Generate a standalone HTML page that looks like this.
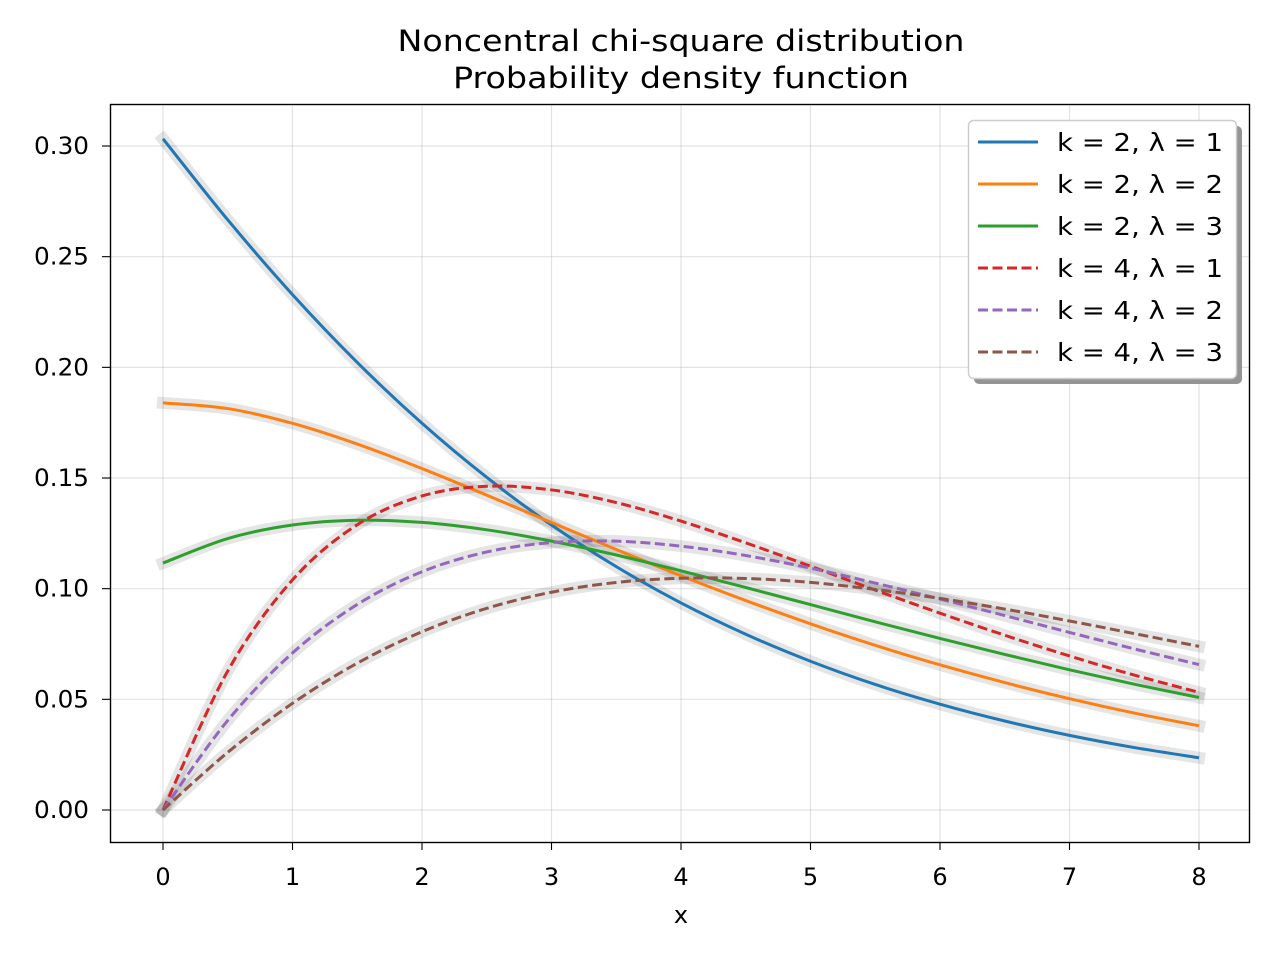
<!DOCTYPE html>
<html><head><meta charset="utf-8"><style>
body{margin:0;background:#fff;}
svg{display:block;font-family:"DejaVu Sans","Liberation Sans",sans-serif;}
</style></head><body>
<svg id="chart" width="1280" height="960" viewBox="0 0 1280 960">
<rect width="1280" height="960" fill="#fff"/>
<text x="681" y="51" font-size="29" text-anchor="middle" textLength="567" lengthAdjust="spacingAndGlyphs">Noncentral chi-square distribution</text>
<text x="681" y="88" font-size="29" text-anchor="middle" textLength="456" lengthAdjust="spacingAndGlyphs">Probability density function</text>
<g id="grid"></g>
<g id="halos"></g>
<g id="lines"></g>
<rect x="110.5" y="104.5" width="1139" height="738" fill="none" stroke="#000" stroke-width="1.4"/>
<g id="ticks"></g>
<text x="681" y="923" font-size="24" text-anchor="middle">x</text>
<g id="legend"></g>
</svg>
<script>
const xs = [0,0.5,1,1.5,2,2.5,3,3.5,4,4.5,5,5.5,6,6.5,7,7.5,8];
const k2l1 = [0.30327,0.26664,0.23287,0.20224,0.17473,0.15029,0.12875,0.10995,0.09354,0.0794,0.06721,0.05671,0.04781,0.04021,0.03372,0.02822,0.0236];
const k2l2 = [0.18394,0.18137,0.17471,0.16535,0.15426,0.14225,0.12991,0.11771,0.10583,0.09463,0.08414,0.0744,0.06558,0.05756,0.0503,0.04379,0.03804];
const k2l3 = [0.11157,0.12266,0.12876,0.13091,0.12994,0.12659,0.12149,0.11522,0.10807,0.10053,0.0928,0.08501,0.07752,0.07028,0.06335,0.05684,0.05082];
const k4l1 = [0,0.06281,0.10395,0.12889,0.14189,0.14627,0.14461,0.13892,0.13053,0.12071,0.11015,0.09935,0.08893,0.07896,0.06959,0.06095,0.05316];
const k4l2 = [0,0.04048,0.07094,0.09287,0.10765,0.11658,0.12083,0.12146,0.11921,0.11497,0.10927,0.10252,0.09533,0.08784,0.08024,0.0728,0.06571];
const k4l3 = [0,0.02605,0.0482,0.06634,0.08055,0.09112,0.09839,0.10281,0.1047,0.10461,0.10283,0.09965,0.0956,0.09079,0.0854,0.0797,0.07393];
const seriesLabels = ["k = 2, λ = 1","k = 2, λ = 2","k = 2, λ = 3","k = 4, λ = 1","k = 4, λ = 2","k = 4, λ = 3"];
const xTicks = [0,1,2,3,4,5,6,7,8];
const yTicks = [0,0.05,0.10,0.15,0.20,0.25,0.30];
const yTickLabels = ["0.00","0.05","0.10","0.15","0.20","0.25","0.30"];

const NS="http://www.w3.org/2000/svg";
const X=v=>163+v*129.5;
const Y=v=>810-v*2213.3;
function mk(tag,attrs,parent){const e=document.createElementNS(NS,tag);for(const k in attrs)e.setAttribute(k,attrs[k]);parent.appendChild(e);return e;}
const grid=document.getElementById('grid'),ticks=document.getElementById('ticks');
xTicks.forEach(t=>{
  const g=mk('line',{x1:X(t),x2:X(t),y1:105,y2:842,stroke:'#b0b0b0','stroke-opacity':0.35,'stroke-width':1.2},grid);
  
  
  const tk=mk('line',{x1:X(t),x2:X(t),y1:842,y2:850,stroke:'#000','stroke-width':1.1},ticks);
  
  
  const tx=mk('text',{x:X(t),y:885,'font-size':24,'text-anchor':'middle'},ticks);tx.textContent=t;
  
  
});
yTicks.forEach((t,i)=>{
  const g=mk('line',{x1:111,x2:1249,y1:Y(t),y2:Y(t),stroke:'#b0b0b0','stroke-opacity':0.35,'stroke-width':1.2},grid);
  
  
  const tk=mk('line',{x1:102,x2:110,y1:Y(t),y2:Y(t),stroke:'#000','stroke-width':1.1},ticks);
  
  
  const tx=mk('text',{x:89,y:Y(t)+8,'font-size':24,'text-anchor':'end',textLength:55,lengthAdjust:'spacingAndGlyphs'},ticks);tx.textContent=yTickLabels[i];
  
  
});
function pathFor(ys){
  const p=xs.map((x,i)=>[X(x),Y(ys[i])]);
  let d=`M${p[0][0]},${p[0][1]}`;
  for(let i=0;i<p.length-1;i++){
    const p0=p[Math.max(0,i-1)],p1=p[i],p2=p[i+1],p3=p[Math.min(p.length-1,i+2)];
    const c1=[p1[0]+(p2[0]-p0[0])/6,p1[1]+(p2[1]-p0[1])/6];
    const c2=[p2[0]-(p3[0]-p1[0])/6,p2[1]-(p3[1]-p1[1])/6];
    d+=` C${c1[0]},${c1[1]} ${c2[0]},${c2[1]} ${p2[0]},${p2[1]}`;
  }
  return d;
}
const data=[k2l1,k2l2,k2l3,k4l1,k4l2,k4l3];
const colors=['#1f77b4','#ff7f0e','#2ca02c','#d62728','#9467bd','#8c564b'];
const names=['curve-k2-l1','curve-k2-l2','curve-k2-l3','curve-k4-l1','curve-k4-l2','curve-k4-l3'];
const halos=document.getElementById('halos'),lines=document.getElementById('lines');
data.forEach((ys,i)=>{
  const h=mk('path',{d:pathFor(ys),fill:'none',stroke:'#000','stroke-opacity':0.1,'stroke-width':12,'stroke-linecap':'square'},halos);
  
  
  const a={d:pathFor(ys),fill:'none',stroke:colors[i],'stroke-width':3};
  if(i>=3)a['stroke-dasharray']='10,4.5';
  const l=mk('path',a,lines);
  
  
});
const lg=document.getElementById('legend');
const sh=mk('rect',{x:974,y:126,width:268,height:258,rx:5,fill:'#888','fill-opacity':0.9},lg);


const fr=mk('rect',{x:968.5,y:120.5,width:268,height:258,rx:5,fill:'#fff',stroke:'#ccc','stroke-width':1.4},lg);


seriesLabels.forEach((s,i)=>{
  const y=142+i*42;
  const a={x1:978,x2:1038,y1:y,y2:y,stroke:colors[i],'stroke-width':3};
  if(i>=3)a['stroke-dasharray']='10,4.5';
  const l=mk('line',a,lg);
  
  
  const t=mk('text',{x:1057,y:y+9,'font-size':25,textLength:166,lengthAdjust:'spacingAndGlyphs'},lg);t.textContent=s;
  
  
});
</script>
</body></html>
